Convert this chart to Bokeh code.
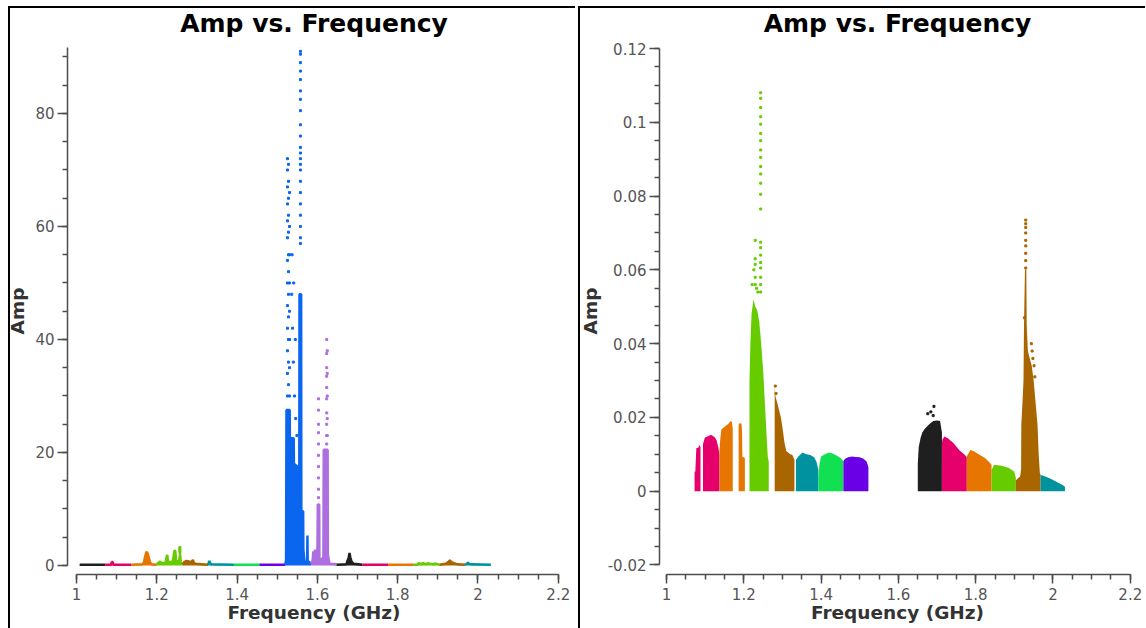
from bokeh.plotting import figure
from bokeh.layouts import row
from bokeh.models import SingleIntervalTicker, CustomJSTickFormatter
from bokeh.embed import file_html
from bokeh.resources import INLINE

# ---------------- colours of the spectral windows (plotms colourize by spw)
spw_colors = ["#1f1f1f", "#e6006b", "#e67600", "#66cc00", "#a86500", "#00929e",
              "#11e052", "#6a00e6", "#0a66ee", "#ad6ee0",
              "#1f1f1f", "#e6006b", "#e67600", "#66cc00", "#a86500", "#00929e"]

x_label = "Frequency (GHz)"
y_label = "Amp"
title_text = "Amp vs. Frequency"

# ---------------- LEFT panel : all data, upper envelope per spw (GHz, Amp)
L0_f = [1.008, 1.072];                     L0_a = [0.15, 0.15]
L1_f = [1.072, 1.086, 1.088, 1.090, 1.092, 1.136]
L1_a = [0.15, 0.15, 0.6, 0.6, 0.15, 0.15]
L2_f = [1.136, 1.164, 1.168, 1.171, 1.174, 1.177, 1.180, 1.183, 1.187, 1.200]
L2_a = [0.15, 0.2, 0.6, 1.6, 2.4, 2.2, 1.4, 0.6, 0.2, 0.15]
L3_f = [1.200, 1.204, 1.208, 1.212, 1.222, 1.224, 1.226, 1.228, 1.232, 1.240, 1.244,
        1.246, 1.248, 1.252, 1.256, 1.258, 1.260, 1.264]
L3_a = [0.15, 0.5, 0.7, 0.4, 0.5, 1.4, 1.9, 0.6, 0.6, 0.7, 2.6, 2.6, 0.8, 0.7, 1.0,
        2.0, 0.4, 0.2]
L4_f = [1.264, 1.268, 1.274, 1.280, 1.286, 1.290, 1.292, 1.296, 1.328]
L4_a = [0.2, 0.6, 0.8, 0.7, 0.6, 1.0, 0.5, 0.3, 0.15]
L5_f = [1.328, 1.329, 1.331, 1.333, 1.336, 1.392]
L5_a = [0.15, 0.4, 0.8, 0.4, 0.2, 0.15]
L6_f = [1.392, 1.456];                     L6_a = [0.15, 0.15]
L7_f = [1.456, 1.520];                     L7_a = [0.15, 0.15]
L8_f = [1.520, 1.522, 1.523, 1.531, 1.5315, 1.541, 1.5415, 1.5505, 1.555, 1.5555,
        1.5595, 1.5600, 1.5645, 1.5650, 1.568, 1.5745, 1.5752, 1.5758, 1.584]
L8_a = [0.15, 1.0, 27.5, 27.5, 22.5, 22.5, 18.0, 17.5, 17.5, 48.0, 48.0, 9.6, 9.6,
        2.8, 0.6, 0.6, 5.3, 0.8, 0.3]
L9_f = [1.584, 1.588, 1.590, 1.592, 1.594, 1.596, 1.598, 1.600, 1.601, 1.6045,
        1.605, 1.607, 1.612, 1.615, 1.6158, 1.6255, 1.626, 1.630, 1.648]
L9_a = [0.3, 0.8, 2.5, 1.2, 2.8, 1.5, 1.0, 1.0, 10.8, 10.8, 1.2, 1.0, 1.2, 1.5,
        20.5, 20.5, 2.0, 0.3, 0.2]
L10_f = [1.648, 1.672, 1.675, 1.678, 1.680, 1.682, 1.685, 1.690, 1.712]
L10_a = [0.15, 0.2, 0.8, 1.4, 2.2, 1.4, 0.7, 0.3, 0.15]
L11_f = [1.712, 1.776];                    L11_a = [0.15, 0.15]
L12_f = [1.776, 1.840];                    L12_a = [0.15, 0.15]
L13_f = [1.840, 1.850, 1.852, 1.860, 1.862, 1.872, 1.874, 1.890, 1.892, 1.904]
L13_a = [0.15, 0.15, 0.4, 0.2, 0.45, 0.2, 0.4, 0.2, 0.35, 0.15]
L14_f = [1.904, 1.920, 1.926, 1.930, 1.934, 1.940, 1.950, 1.968]
L14_a = [0.15, 0.3, 0.6, 0.9, 0.6, 0.4, 0.2, 0.15]
L15_f = [1.968, 1.972, 1.975, 1.978, 1.985, 2.032]
L15_a = [0.15, 0.3, 0.5, 0.3, 0.2, 0.15]

left_env = [(L0_f, L0_a, 0), (L1_f, L1_a, 1), (L2_f, L2_a, 2), (L3_f, L3_a, 3),
            (L4_f, L4_a, 4), (L5_f, L5_a, 5), (L6_f, L6_a, 6), (L7_f, L7_a, 7),
            (L8_f, L8_a, 8), (L9_f, L9_a, 9), (L10_f, L10_a, 10), (L11_f, L11_a, 11),
            (L12_f, L12_a, 12), (L13_f, L13_a, 13), (L14_f, L14_a, 14), (L15_f, L15_a, 15)]

# isolated high points (left)
LS_blue_f = [1.5578] * 23 + [1.5255] * 13 + [1.528] * 12 + [1.5305] * 8 + \
            [1.536, 1.538, 1.540, 1.543, 1.546, 1.549, 1.537, 1.541, 1.545]
LS_blue_a = [92, 91, 90.5, 89, 87.5, 86, 84, 82.5, 80.5, 78, 76, 74, 73, 72, 71, 70,
             68, 66, 64, 62, 60, 58, 57,
             72, 70, 67, 64, 61, 58, 54, 50, 46, 42, 38, 34, 30,
             71, 68, 65, 62, 59, 55, 52, 48, 44, 40, 36, 32,
             66, 60, 55, 50, 45, 40, 35, 30,
             48, 42, 36, 30, 26, 23, 55, 50, 40]
LS_purple_f = [1.6027] * 10 + [1.6232] * 10 + [1.6245] * 5
LS_purple_a = [29.5, 27.5, 25, 23.5, 21.5, 19.5, 17.5, 15.5, 13.5, 12,
               40, 37.5, 35, 33.5, 31.5, 29.5, 27, 25, 23, 21.5,
               38, 34, 30, 26, 23]
LS_green_f = [1.2575, 1.2575, 1.2575, 1.2578]
LS_green_a = [3.2, 2.9, 2.6, 2.3]

# ---------------- RIGHT panel : flagged data, upper envelope per block
R1_f = [1.0726, 1.0745, 1.0772, 1.082, 1.0855, 1.088]
R1_a = [0.0053, 0.0053, 0.0117, 0.0118, 0.0125, 0.0119]
R2_f = [1.0944, 1.0991, 1.1058, 1.1153, 1.1248, 1.1296, 1.1343, 1.1371]
R2_a = [0.0128, 0.0145, 0.0148, 0.0153, 0.0146, 0.0138, 0.0118, 0.0098]
R3_f = [1.1371, 1.139, 1.142, 1.147, 1.152, 1.157, 1.162, 1.166, 1.169, 1.1714]
R3_a = [0.011, 0.014, 0.0167, 0.0172, 0.0176, 0.018, 0.0185, 0.019, 0.0188, 0.017]
R4_f = [1.1866, 1.190, 1.1942, 1.1955, 1.1962, 1.2028]
R4_a = [0.018, 0.0185, 0.0183, 0.016, 0.0094, 0.009]
R5_f = [1.2147, 1.217, 1.220, 1.225, 1.230, 1.235, 1.240, 1.245, 1.250, 1.2535,
        1.258, 1.262, 1.2646]
R5_a = [0.030, 0.040, 0.048, 0.052, 0.050, 0.049, 0.046, 0.040, 0.033, 0.026,
        0.017, 0.0094, 0.008]
R6_f = [1.2799, 1.282, 1.2865, 1.2912, 1.296, 1.3007, 1.3055, 1.3102, 1.315,
        1.3197, 1.3254, 1.331]
R6_a = [0.028, 0.0257, 0.024, 0.022, 0.020, 0.0167, 0.013, 0.0108, 0.0105, 0.010,
        0.0099, 0.0085]
R7_f = [1.3349, 1.342, 1.352, 1.362, 1.372, 1.382, 1.388, 1.393]
R7_a = [0.0085, 0.0095, 0.0105, 0.0100, 0.0098, 0.0092, 0.0080, 0.0058]
R8_f = [1.393, 1.396, 1.400, 1.410, 1.420, 1.430, 1.440, 1.450, 1.4577]
R8_a = [0.0040, 0.0075, 0.0094, 0.0100, 0.0105, 0.0102, 0.0097, 0.0090, 0.0082]
R9_f = [1.4577, 1.462, 1.470, 1.480, 1.490, 1.500, 1.510, 1.518, 1.5224]
R9_a = [0.0082, 0.0088, 0.0092, 0.0094, 0.0093, 0.0092, 0.0088, 0.0080, 0.0065]
R10_f = [1.6502, 1.6527, 1.6575, 1.6622, 1.6690, 1.6765, 1.6835, 1.6907, 1.7002,
         1.7078, 1.7126]
R10_a = [0.0076, 0.012, 0.0145, 0.0160, 0.0170, 0.0178, 0.0185, 0.019, 0.0192,
         0.019, 0.016]
R11_f = [1.7126, 1.714, 1.7192, 1.7287, 1.743, 1.7572, 1.7715, 1.777]
R11_a = [0.013, 0.014, 0.0148, 0.0143, 0.013, 0.0112, 0.0099, 0.0092]
R12_f = [1.777, 1.786, 1.795, 1.810, 1.824, 1.834, 1.841]
R12_a = [0.0094, 0.0112, 0.0108, 0.0099, 0.009, 0.008, 0.0072]
R13_f = [1.841, 1.848, 1.867, 1.886, 1.900, 1.904]
R13_a = [0.0058, 0.0072, 0.0069, 0.0063, 0.0053, 0.0035]
R14_f = [1.904, 1.915, 1.9175, 1.918, 1.921, 1.9237, 1.925, 1.9275, 1.931, 1.932,
         1.935, 1.940, 1.945, 1.950, 1.955, 1.960, 1.963, 1.966, 1.968]
R14_a = [0.003, 0.004, 0.006, 0.018, 0.024, 0.030, 0.045, 0.060, 0.060, 0.045,
         0.038, 0.036, 0.034, 0.030, 0.024, 0.018, 0.010, 0.005, 0.0044]
R15_f = [1.968, 1.975, 1.985, 1.995, 2.005, 2.015, 2.025, 2.031]
R15_a = [0.0044, 0.0042, 0.0038, 0.0033, 0.0028, 0.0022, 0.0017, 0.0012]

right_env = [(R1_f, R1_a, 1), (R2_f, R2_a, 1), (R3_f, R3_a, 2), (R4_f, R4_a, 2),
             (R5_f, R5_a, 3), (R6_f, R6_a, 4), (R7_f, R7_a, 5), (R8_f, R8_a, 6),
             (R9_f, R9_a, 7), (R10_f, R10_a, 10), (R11_f, R11_a, 11),
             (R12_f, R12_a, 12), (R13_f, R13_a, 13), (R14_f, R14_a, 14),
             (R15_f, R15_a, 15)]

RS_green_f = [1.2437] * 22 + [1.2295] * 5 + [1.2215, 1.226, 1.233, 1.2365]
RS_green_a = [0.108, 0.1065, 0.104, 0.1015, 0.0995, 0.097, 0.095, 0.0925, 0.0905,
              0.088, 0.086, 0.0835, 0.0805, 0.0765, 0.0675, 0.066, 0.064, 0.062,
              0.0605, 0.058, 0.056, 0.054,
              0.068, 0.063, 0.0615, 0.058, 0.056,
              0.056, 0.060, 0.055, 0.054]
RS_brown_f = [1.9295] * 9 + [1.944, 1.946, 1.948, 1.951, 1.953, 1.926, 1.2815, 1.2835]
RS_brown_a = [0.0735, 0.0725, 0.0715, 0.070, 0.068, 0.0665, 0.0645, 0.0625, 0.0605,
              0.040, 0.038, 0.036, 0.034, 0.031, 0.047, 0.0285, 0.0265]
RS_black_f = [1.684, 1.692, 1.690, 1.676]
RS_black_a = [0.0215, 0.023, 0.0205, 0.021]

TOP_SHIFT = 4  # figure starts this many px above the page top


def frame_lines(dx):
    return {
        "background-image": "linear-gradient(#000, #000), linear-gradient(#000, #000)",
        "background-size": "2px 100%, 100% 2px",
        "background-position": f"{dx}px {6 + TOP_SHIFT}px, {dx}px {6 + TOP_SHIFT}px",
        "background-repeat": "no-repeat",
    }


def style(p, yint, ystd):
    p.title.text = title_text
    p.title.align = "center"
    p.title.text_font = "DejaVu Sans"
    p.title.text_font_size = "25px"
    p.title.text_font_style = "bold"
    p.title.text_color = "#000000"
    p.title.standoff = 19
    p.xgrid.visible = False
    p.ygrid.visible = False
    p.outline_line_color = None
    p.border_fill_color = None
    p.background_fill_color = None
    p.xaxis.ticker = SingleIntervalTicker(interval=0.2, num_minor_ticks=4)
    p.yaxis.ticker = SingleIntervalTicker(interval=yint, num_minor_ticks=4)
    fmt = "return Number(tick.toFixed(6)).toString();"
    for ax in (p.xaxis[0], p.yaxis[0]):
        ax.formatter = CustomJSTickFormatter(code=fmt)
        ax.axis_line_color = "#4d4d4d"
        ax.axis_line_width = 1.5
        ax.major_tick_line_color = "#4d4d4d"
        ax.major_tick_line_width = 1.5
        ax.minor_tick_line_color = "#4d4d4d"
        ax.minor_tick_line_width = 1.5
        ax.major_tick_in = 0
        ax.minor_tick_in = 0
        ax.minor_tick_out = 5
        ax.major_label_text_font = "DejaVu Sans"
        ax.major_label_text_font_size = "15px"
        ax.major_label_text_color = "#555555"
        ax.axis_label_text_font = "DejaVu Sans"
        ax.axis_label_text_font_size = "18.5px"
        ax.axis_label_text_font_style = "bold"
        ax.axis_label_text_color = "#333333"
    p.xaxis.major_tick_out = 9
    p.yaxis.major_tick_out = 10
    p.xaxis.major_label_standoff = 4
    p.yaxis.major_label_standoff = 3
    p.xaxis.axis_label_standoff = -1
    p.yaxis.axis_label_standoff = ystd
    p.xaxis.axis_label = x_label
    p.yaxis.axis_label = y_label


H = 628 + TOP_SHIFT

p1 = figure(width=572, height=H, x_range=(0.9776, 2.2055), y_range=(-1.593, 91.68),
            output_backend="svg", toolbar_location=None,
            min_border_left=64, min_border_right=15, min_border_top=47 + TOP_SHIFT,
            min_border_bottom=54)
style(p1, 20, 4)
p1.xaxis.bounds = (1, 2.2)
p1.yaxis.bounds = (0, 91.7)
for f, a, c in left_env:
    p1.varea(x=f, y1=0, y2=a, fill_color=spw_colors[c])
    p1.line(x=f, y=a, line_width=2.5, line_color=spw_colors[c])
p1.scatter(LS_blue_f, LS_blue_a, marker="square", size=2, color=spw_colors[8])
p1.scatter(LS_purple_f, LS_purple_a, marker="square", size=2, color=spw_colors[9])
p1.scatter(LS_green_f, LS_green_a, marker="square", size=2, color=spw_colors[3])
p1.styles = frame_lines(5)

p2 = figure(width=570, height=H, x_range=(0.98189, 2.2135), y_range=(-0.02258, 0.12028),
            output_backend="svg", toolbar_location=None,
            min_border_left=84, min_border_right=10, min_border_top=47 + TOP_SHIFT,
            min_border_bottom=54)
style(p2, 0.02, 4)
p2.xaxis.bounds = (1, 2.2)
p2.yaxis.bounds = (-0.02, 0.12)
for f, a, c in right_env:
    p2.varea(x=f, y1=0, y2=a, fill_color=spw_colors[c])
p2.scatter(RS_green_f, RS_green_a, marker="square", size=2, color=spw_colors[3])
p2.scatter(RS_brown_f, RS_brown_a, marker="square", size=2, color=spw_colors[4])
p2.scatter(RS_black_f, RS_black_a, marker="square", size=2, color=spw_colors[10])
p2.styles = frame_lines(3)

layout = row(p1, p2, margin=(-TOP_SHIFT, 0, 0, 3), spacing=0)
open("out.html", "w").write(file_html(layout, INLINE))
